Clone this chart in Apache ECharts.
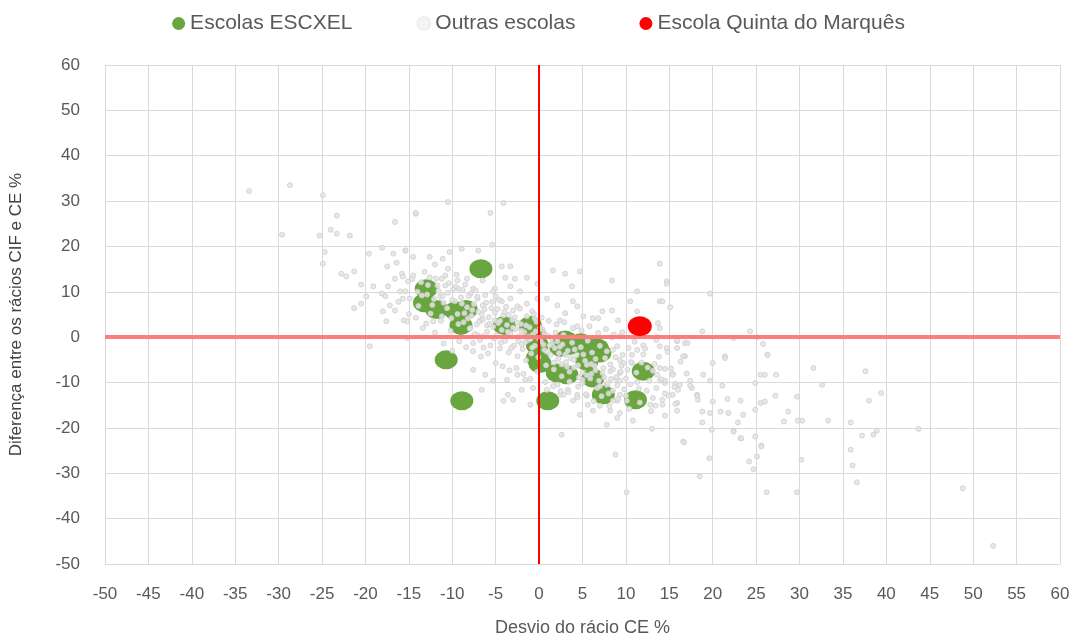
<!DOCTYPE html>
<html>
<head>
<meta charset="utf-8">
<script src="https://cdn.jsdelivr.net/npm/echarts@6/dist/echarts.min.js"></script>
<style>
  html, body { margin: 0; padding: 0; background: #fff; }
  #box { width: 1077px; height: 642px; }
</style>
</head>
<body>
<div id="box"></div>
<script>
// nomes das séries
var seriesNames = ['Escolas ESCXEL', 'Outras escolas', 'Escola Quinta do Marquês'];

// escolas ESCXEL [desvio CE %, diferença CIF-CE %]
var escxelSchools = [
  [-6.7,15.1],[-13.0,10.7],[-13.2,7.6],[-11.8,6.1],[-8.4,6.1],[-9.0,2.6],[-10.7,-5.0],[-8.9,-14.0],
  [-4.0,2.6],[-1.0,2.6],[-0.5,0.6],[-0.2,-1.7],[0.1,-5.8],[-0.2,-4.6],[2.1,-7.9],[3.2,-8.3],
  [3.0,-0.6],[3.6,-1.8],[5.5,-2.0],[6.7,-2.4],[7.0,-3.5],[5.5,-5.3],[6.2,-9.0],[7.4,-12.7],
  [1.0,-14.0],[11.1,-13.8],[12.0,-7.5],[-9.6,5.8],[2.5,-2.2],[4.8,-1.2]
];

// escola em destaque
var quintaSchool = [[11.6, 2.4]];

// outras escolas
var otherSchools = [
  [-33.4,32.2],[-28.7,33.5],[-29.6,22.6],[-24.9,31.3],[-23.3,26.8],[-24.0,23.7],[-23.3,22.8],[-25.3,22.4],
  [-21.8,22.4],[-24.7,18.8],[-24.9,16.2],[-22.8,14.0],[-22.2,13.4],[-21.3,14.5],[-20.5,11.6],[-19.9,9.0],
  [-20.5,7.4],[-21.3,6.4],[-19.5,-2.0],[-19.6,18.4],[-18.1,19.7],[-16.6,25.4],[-14.2,27.2],[-16.8,18.4],
  [-15.4,19.1],[-17.5,15.6],[-16.4,16.4],[-15.8,14.0],[-16.6,12.9],[-17.4,11.2],[-19.1,11.2],[-18.1,9.6],
  [-17.7,9.0],[-17.2,7.0],[-18.0,5.7],[-16.6,5.9],[-17.6,3.5],[-15.6,3.7],[-16.0,10.1],[-15.7,8.5],
  [-15.1,12.3],[-14.5,13.6],[-15.2,-0.2],
  [-10.5,29.8],[-14.2,27.4],[-5.6,27.4],[-4.1,29.6],[-5.4,20.4],[-15.4,19.1],[-14.5,17.7],[-12.6,17.7],
  [-11.1,17.3],[-10.3,18.8],[-8.9,19.5],[-7.0,19.1],[-12.0,16.0],[-10.5,15.1],[-4.3,15.6],[-3.3,15.6],
  [1.6,14.7],[-15.7,13.4],[-11.2,12.9],[-9.4,12.5],[-8.3,12.9],[-6.5,12.5],[-3.9,13.1],[-2.8,12.9],
  [-1.4,13.1],[-0.2,11.8],[-10.8,11.4],[-9.3,10.7],[-7.6,10.7],[-5.1,10.7],[-3.3,11.2],[-2.2,10.1],
  [-0.2,8.5],[0.9,8.5],[-15.4,10.1],[-14.9,8.5],[-15.2,3.5],[-13.4,2.0],[-12.2,3.5],[-11.2,4.6],
  [-7.1,8.5],[-6.5,7.0],[-5.3,10.1],[-4.3,7.9],[-3.3,8.5],[-2.5,6.8],[-1.4,7.4],[-0.8,5.7],
  [-6.8,3.7],[-6.0,2.6],[-5.1,3.7],[-7.9,2.0],[-7.1,0.4],[-6.5,0.2],[-7.6,-1.3],
  [3.0,14.0],[4.7,14.5],[3.8,11.2],[2.1,7.0],[3.9,7.9],[4.4,6.8],[8.4,12.5],[11.3,10.1],
  [13.9,16.2],[14.7,12.3],[10.5,7.9],[11.3,5.7],[13.9,7.9],[15.1,6.6],[7.3,5.7],[8.4,5.9],
  [6.2,4.2],[6.8,4.2],[9.1,3.7],[5.1,4.6],[3.0,5.3],[2.4,3.7],[4.4,2.4],[8.4,0.0],
  [9.3,0.2],[13.7,3.1],[13.9,2.0],[13.6,0.0],[14.7,-2.4],[15.9,-0.9],[16.8,-1.3],[16.8,-4.2],
  [9.0,-2.0],[10.3,-2.4],[11.3,-2.8],[12.0,-1.8],[9.6,-3.9],[10.7,-5.7],[9.7,-5.7],[8.2,-7.5],
  [9.3,-7.9],[9.0,-9.4],[13.6,-8.3],[15.4,-8.1],[13.9,-9.6],[14.5,-10.1],[16.2,-10.5],[17.4,-9.6],
  [17.6,-11.2],[15.4,-12.7],[18.2,-12.7],[9.3,-12.7],[9.0,-14.0],[12.8,-14.9],[14.2,-13.8],[15.9,-14.5],
  [3.9,-14.0],[2.8,-12.7],
  [14.7,11.8],[19.7,9.6],[14.2,7.9],[18.8,1.3],[24.3,1.3],[22.4,-0.2],[25.1,0.0],[15.9,-0.7],
  [17.1,-1.3],[25.8,-1.5],[13.9,-2.0],[15.9,-2.4],[26.3,-3.9],[16.6,-4.2],[21.4,-4.2],[20.0,-5.7],
  [31.6,-6.8],[13.9,-6.8],[15.4,-8.3],[18.9,-8.3],[25.5,-8.3],[26.0,-8.3],[27.3,-8.3],[14.5,-9.6],
  [19.7,-9.6],[24.9,-10.1],[32.6,-10.5],[15.7,-10.3],[17.4,-10.7],[16.0,-11.6],[21.1,-10.7],[13.1,-13.4],
  [14.9,-12.9],[18.2,-12.9],[18.3,-13.8],[21.7,-13.6],[23.2,-14.0],[27.2,-12.9],[29.7,-13.1],[20.0,-14.2],
  [25.5,-14.5],[26.0,-14.2],[13.4,-15.1],[14.2,-14.9],[15.7,-14.7],[15.9,-16.2],[18.8,-16.4],[19.7,-16.7],
  [20.9,-16.4],[21.8,-16.7],[24.9,-16.0],[28.7,-16.4],[23.5,-17.1],[14.5,-17.3],[30.3,-18.4],[33.3,-18.4],
  [28.2,-18.6],[18.8,-18.8],[22.9,-18.8],[13.0,-20.2],[19.9,-20.4],[22.4,-20.6],[23.2,-22.3],[24.9,-21.9],
  [16.6,-23.0],[25.6,-23.9],
  [37.6,-7.5],[38.0,-14.0],[39.4,-12.3],[38.9,-20.6],[38.5,-21.5],[37.2,-21.7],[35.9,-24.8],[36.1,-28.3],
  [36.6,-32.0],[43.7,-20.2],[48.8,-33.3],[52.3,-46.0],[35.9,-18.8],[29.7,-34.2],[26.2,-34.2],[24.2,-27.4],
  [25.1,-26.3],[24.7,-29.1],[30.2,-27.0],[18.5,-30.7],[19.6,-26.7],[10.1,-34.2],[8.8,-25.9],[16.7,-23.2],
  [25.6,-24.1],[22.4,-20.8],[23.3,-22.3],[29.8,-18.4],[21.4,-4.6],[26.3,-3.9],
  [2.6,-21.5],[4.7,-17.1],[7.0,-15.1],[7.8,-19.3],[6.2,-16.2],[5.6,-14.9],[8.2,-16.2],[9.3,-16.7],
  [10.8,-18.4],[9.0,-17.8],[-4.1,-14.0],[-3.0,-13.8],[-1.0,-14.9],[-3.6,-12.7],[-2.0,-11.6],[-0.7,-11.2],
  [-6.6,-11.6],[-7.6,-7.2],[-6.2,-8.3],[-5.3,-9.6],[-3.7,-9.4],[-2.5,-8.3],[-1.6,-9.4],[0.9,-11.6],
  [2.4,-12.7],[3.3,-11.6],[4.4,-12.7],[2.1,-10.5],[5.0,-9.4],[5.5,-12.9],[7.8,-10.5],[8.5,-11.8],
  [9.3,-9.6],[10.1,-14.0],[8.5,-14.0],
  [-13.5,9.2],[-12.8,11.5],[-12.1,8.4],[-11.6,10.2],[-11.0,7.6],[-10.5,9.8],[-10.1,4.2],[-9.7,7.9],
  [-9.4,5.1],[-9.0,8.8],[-8.7,3.3],[-8.3,6.6],[-8.0,1.9],[-7.8,4.7],[-7.5,7.3],[-7.2,2.8],
  [-7.0,5.6],[-6.8,-0.6],[-6.5,3.9],[-6.3,6.1],[-6.0,1.2],[-5.8,4.4],[-5.6,-1.8],[-5.3,2.3],
  [-5.1,5.4],[-4.9,0.4],[-4.7,3.1],[-4.5,-2.5],[-4.3,1.6],[-4.1,4.8],[-3.9,-0.8],[-3.7,2.7],
  [-3.5,-3.4],[-3.3,0.9],[-3.1,3.8],[-2.9,-1.9],[-2.7,1.8],[-2.5,-4.2],[-2.3,0.2],[-2.1,2.9],
  [-1.9,-2.6],[-1.7,1.1],[-1.5,-5.1],[-1.3,-0.7],[-1.1,2.2],[-0.9,-3.6],[-0.7,0.6],[-0.5,-1.9],
  [-0.3,3.4],[-0.1,-4.4],[0.2,-0.9],[0.4,1.7],[0.6,-2.8],[0.8,-6.2],[1.0,0.3],[1.3,-3.9],
  [1.5,-1.4],[1.7,-7.1],[1.9,1.0],[2.2,-4.8],[2.4,-2.1],[2.6,-8.6],[2.8,0.5],[3.1,-5.5],
  [3.3,-3.0],[3.5,-9.8],[3.8,-1.2],[4.0,-6.7],[4.3,-4.0],[4.5,-10.9],[4.8,-2.2],[5.0,-7.8],
  [5.3,-5.2],[5.6,-0.8],[5.9,-9.1],[6.1,-3.4],[6.4,-6.3],[6.7,-11.2],[7.0,-1.9],[7.3,-7.9],
  [7.6,-4.6],[7.9,-10.2],[8.2,-6.0],[8.5,-2.8],[8.9,-8.8],[9.3,-5.1],[9.8,-11.5],[10.2,-7.2],
  [10.7,-3.9],[11.3,-9.9],[11.8,-5.6],[12.4,-11.8],[13.1,-7.4],[13.8,-4.3],[14.5,-12.4],[15.2,-6.9],
  [-14.6,12.8],[-13.9,6.9],[-13.2,14.4],[-12.5,5.2],[-11.9,12.9],[-11.3,3.6],[-10.8,13.6],[-10.2,1.4],
  [-9.6,11.1],[-9.2,-0.9],[-8.8,10.4],[-8.4,-2.2],[-7.9,9.6],[-7.6,-3.1],[-7.1,8.9],[-6.7,-4.3],
  [-6.2,9.3],[-5.9,-3.6],[-5.4,7.8],[-5.0,-5.7],[-4.6,8.2],[-4.2,-6.4],[-3.8,6.7],[-3.4,-7.3],
  [-3.0,5.9],[-2.6,-6.8],[-2.2,6.3],[-1.8,-8.1],[-1.4,4.6],[-1.0,-9.2],[-0.6,5.1],[-0.2,-7.6],
  [0.3,4.3],[0.7,-9.9],[1.1,3.6],[1.6,-10.8],[2.0,2.8],[2.5,-11.9],[2.9,3.3],[3.4,-12.1],
  [3.9,2.0],[4.4,-13.3],[4.9,1.5],[5.4,-12.6],[5.8,2.4],[6.3,-14.1],[6.8,0.9],[7.2,-13.0],
  [7.7,1.8],[8.1,-15.2],[8.6,0.6],[9.1,-13.6],[9.6,1.1],[10.4,-15.8],[11.0,-1.0],[11.6,-14.4],
  [12.2,-2.5],[12.9,-16.3],[13.5,-0.6],[14.1,-9.3],[14.8,-3.2],[15.6,-11.0],[16.3,-5.4],[17.0,-8.0],
  [-12.3,7.1],[-11.4,8.9],[-10.6,6.4],[-9.9,10.6],[-9.3,2.9],[-8.6,5.3],[-8.1,9.1],[-7.4,0.7],
  [-6.9,3.4],[-6.4,-2.3],[-5.7,2.9],[-5.2,-0.3],[-4.8,6.2],[-4.4,-1.2],[-3.6,1.2],[-3.2,-2.4],
  [-2.8,4.4],[-2.4,-0.9],[-2.0,1.4],[-1.6,-1.1],[-1.2,0.1],[-0.8,-2.3],[-0.4,1.3],[0.0,-0.3],
  [0.5,-1.6],[0.9,-3.2],[1.4,-0.2],[1.8,-2.4],[2.3,-3.5],[2.7,-1.6],[3.2,-6.5],[3.6,-4.6],
  [4.1,-2.7],[4.6,-8.9],[5.1,-3.8],[5.5,-6.1],[6.0,-8.1],[6.5,-4.8],[6.9,-9.6],[7.4,-6.8],
  [7.8,-3.1],[8.3,-9.2],[8.8,-4.4],[9.4,-7.6],[10.0,-9.1],[10.6,-5.5],[11.2,-7.8],[12.0,-3.8],
  [12.7,-9.6],[13.3,-5.9],
  [-14.0,10.0],[-13.6,12.1],[-12.9,9.4],[-12.6,13.2],[-11.7,11.4],[-11.1,9.1],[-10.4,11.9],[-10.0,8.2],
  [-9.5,13.8],[-8.9,7.4],[-8.5,11.6],[-8.2,4.1],[-7.7,6.0],[-7.3,10.3],[-6.6,5.0],[-6.1,7.6],
  [-5.5,6.4],[-5.0,9.0],[-4.5,3.6],[-4.0,5.6],[-3.5,4.9],[-3.0,2.1],[-2.5,3.2],[-2.0,-1.5],
  [-1.5,2.6],[-1.0,-0.4],[-0.5,4.1],[0.1,2.1],[0.6,0.8],[1.2,-1.8],[1.7,-5.6],[2.1,-0.9],
  [2.6,-6.0],[3.0,-3.9],[3.5,-7.6],[4.0,-5.0],[4.5,-6.2],[5.0,-10.1],[5.5,-8.4],[6.0,-5.9],
  [6.5,-7.3],[7.0,-10.8],[7.5,-8.9],[8.0,-12.4],[8.5,-7.1],[9.0,-10.6],[9.5,-6.3],[10.0,-12.9],
  [10.5,-10.4],[11.5,-11.3],[12.5,-6.7],[13.5,-11.2],[14.5,-7.0],[-16.2,7.8],[-15.0,5.1],[-14.2,4.3],
  [-13.0,3.0],[-12.0,1.0],[-11.0,-1.4],[-10.0,-3.0]
];

var FONT = '"Liberation Sans Narrow", "Liberation Sans", sans-serif';
var TXT = '#595959';

var myChart = echarts.init(document.getElementById('box'));
var option = {
  animation: false,
  textStyle: { fontFamily: FONT },
  legend: {
    top: 8,
    left: 'center',
    itemGap: 64,
    itemWidth: 13,
    itemHeight: 13,
    textStyle: { fontSize: 21, color: TXT, fontFamily: FONT },
    data: [
      { name: seriesNames[0], icon: 'circle' },
      { name: seriesNames[1], icon: 'circle', itemStyle: { color: '#f2f2f2', borderColor: '#ececec' } },
      { name: seriesNames[2], icon: 'circle' }
    ]
  },
  grid: { left: 105, right: 17, top: 65, bottom: 75 },
  xAxis: {
    type: 'value',
    min: -50, max: 60, interval: 5,
    name: 'Desvio do rácio CE %',
    nameLocation: 'middle',
    nameGap: 55,
    nameTextStyle: { fontSize: 18, color: TXT },
    axisLine: { show: false },
    axisTick: { show: false },
    axisLabel: { fontSize: 17, color: TXT, margin: 22 },
    splitLine: { lineStyle: { color: '#d9d9d9', width: 1 } }
  },
  yAxis: {
    type: 'value',
    min: -50, max: 60, interval: 10,
    name: 'Diferença entre os rácios CIF e CE %',
    nameLocation: 'middle',
    nameGap: 80,
    nameTextStyle: { fontSize: 17, color: '#404040' },
    axisLine: { show: false },
    axisTick: { show: false },
    axisLabel: { fontSize: 17, color: TXT, margin: 25 },
    splitLine: { lineStyle: { color: '#d9d9d9', width: 1 } }
  },
  series: [
    {
      name: seriesNames[0],
      type: 'scatter',
      symbol: 'circle',
      symbolSize: [23, 19],
      itemStyle: { color: '#6aa640', opacity: 1 },
      data: escxelSchools,
      z: 3,
      markLine: {
        silent: true,
        symbol: 'none',
        label: { show: false },
        data: [
          { xAxis: 0, lineStyle: { color: '#ff0000', width: 2, type: 'solid' } }
        ]
      }
    },
    {
      name: seriesNames[1],
      type: 'scatter',
      symbol: 'circle',
      symbolSize: 5,
      itemStyle: { color: '#e4e4e4', borderColor: '#cfcfcf', borderWidth: 1, opacity: 0.85 },
      data: otherSchools,
      z: 4,
      markLine: {
        silent: true,
        symbol: 'none',
        label: { show: false },
        data: [
          { yAxis: 0, lineStyle: { color: '#ff7c7c', width: 4, type: 'solid' } }
        ]
      }
    },
    {
      name: seriesNames[2],
      type: 'scatter',
      symbol: 'circle',
      symbolSize: [24, 20],
      itemStyle: { color: '#ff0000', opacity: 1 },
      data: quintaSchool,
      z: 5
    }
  ]
};
myChart.setOption(option);
</script>
</body>
</html>
